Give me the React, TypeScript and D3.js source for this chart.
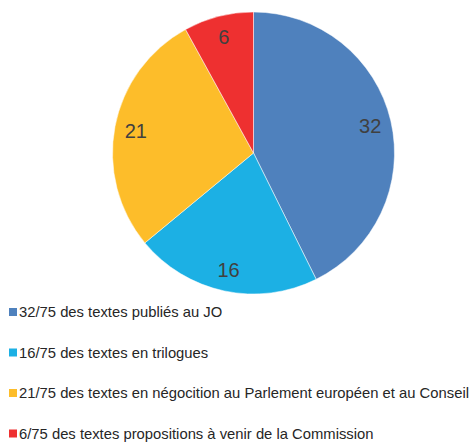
import React, { useEffect, useRef } from 'react';
import * as d3 from 'd3';

const values = [32, 16, 21, 6];
const labels = [
    '32/75 des textes publiés au JO',
    '16/75 des textes en trilogues',
    '21/75 des textes en négocition au Parlement européen et au Conseil',
    '6/75 des textes propositions à venir de la Commission',
];
const colors = ['#4F81BD', '#1CB0E4', '#FDBD2A', '#EE3030'];

const WIDTH = 472;
const HEIGHT = 442;
const CX = 253.5;
const CY = 153;
const RADIUS = 141;

const App = () => {
    const ref = useRef<SVGSVGElement>(null);

    useEffect(() => {
        const svg = d3.select(ref.current);
        svg.selectAll('*').remove();

        const pie = d3.pie<number>().sort(null).value(d => d);
        const arcs = pie(values);
        const arc = d3.arc<d3.PieArcDatum<number>>().innerRadius(0).outerRadius(RADIUS);
        const labelArc = d3.arc<d3.PieArcDatum<number>>().innerRadius(RADIUS * 0.85).outerRadius(RADIUS * 0.85);

        const g = svg.append('g').attr('transform', `translate(${CX},${CY})`);

        // slices
        g.selectAll('path')
            .data(arcs)
            .enter().append('path')
            .attr('d', arc)
            .attr('fill', (d, i) => colors[i])
            .attr('stroke', '#ffffff')
            .attr('stroke-width', 0.5);

        // value labels
        g.selectAll('text')
            .data(arcs)
            .enter().append('text')
            .attr('transform', d => `translate(${labelArc.centroid(d)})`)
            .attr('text-anchor', 'middle')
            .attr('dominant-baseline', 'central')
            .style('font-family', '"Liberation Sans", Arial, sans-serif')
            .style('font-size', '20px')
            .attr('fill', '#404040')
            .text(d => d.data);

        // legend
        const legend = svg.append('g');
        const item = legend.selectAll('g')
            .data(labels)
            .enter().append('g')
            .attr('transform', (d, i) => `translate(9,${312 + i * 40.5})`);

        item.append('rect')
            .attr('x', 0)
            .attr('y', -4)
            .attr('width', 8)
            .attr('height', 8)
            .attr('fill', (d, i) => colors[i]);

        item.append('text')
            .attr('x', 10)
            .attr('y', 0)
            .attr('dominant-baseline', 'central')
            .style('font-family', '"Liberation Sans", Arial, sans-serif')
            .style('font-size', '14.8px')
            .attr('fill', '#262626')
            .text(d => d);
    }, []);

    return (
        <svg ref={ref} width={WIDTH} height={HEIGHT}
            style={{ position: 'absolute', left: 0, top: 0, background: '#fff' }} />
    );
};

export default App;
